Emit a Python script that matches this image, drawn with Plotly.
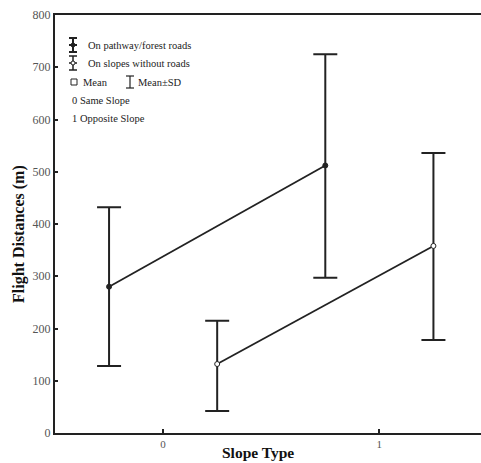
import plotly.graph_objects as go

# ---- data ----
slope_ticks = [0, 1]
tick_labels = ["0", "1"]
road_x = [-0.25, 0.75]
road_mean = [280, 512]
road_sd_upper = [432, 725]
road_sd_lower = [128, 297]
noroad_x = [0.25, 1.25]
noroad_mean = [132, 358]
noroad_sd_upper = [215, 536]
noroad_sd_lower = [42, 178]

W, H = 481, 463
L, R, T, B = 55, 0, 15, 30
PW, PH = W - L - R, H - T - B
FONT = "Liberation Serif"
INK = "#222222"

def px(x):
    return (x - L) / PW

def py(y):
    return (H - B - y) / PH

fig = go.Figure()

def add_series(xs, means, up, lo, fill):
    fig.add_trace(go.Scatter(
        x=xs, y=means, mode="lines+markers",
        line=dict(color=INK, width=1.8),
        marker=dict(size=5, color=fill, line=dict(color=INK, width=1)),
        error_y=dict(type="data", symmetric=False,
                     array=[u - m for u, m in zip(up, means)],
                     arrayminus=[m - l for m, l in zip(means, lo)],
                     color=INK, thickness=2, width=12),
        showlegend=False, hoverinfo="skip"))

add_series(road_x, road_mean, road_sd_upper, road_sd_lower, INK)
add_series(noroad_x, noroad_mean, noroad_sd_upper, noroad_sd_lower, "white")

fig.update_layout(
    width=W, height=H,
    margin=dict(l=L, r=R, t=T, b=B),
    paper_bgcolor="white", plot_bgcolor="white",
    font=dict(family=FONT, color="#333333", size=11),
    xaxis=dict(range=[-0.5, 1.47], tickvals=slope_ticks, ticktext=tick_labels,
               showgrid=False, zeroline=False, showline=True, linecolor=INK,
               linewidth=2, mirror=True, ticks="inside", ticklen=4,
               tickcolor=INK, tickwidth=1.5,
               tickfont=dict(family=FONT, size=11, color="#555555")),
    yaxis=dict(range=[0, 800], tickvals=[0, 100, 200, 300, 400, 500, 600, 700, 800],
               showgrid=False, zeroline=False, showline=True, linecolor=INK,
               linewidth=2, ticks="inside", ticklen=3, tickcolor=INK, tickwidth=1.5,
               tickfont=dict(family=FONT, size=12, color="#555555")),
)

ann = []
ann.append(dict(text="<b>Flight Distances (m)</b>", x=px(19), y=py(234), xref="paper",
                yref="paper", textangle=-90, showarrow=False,
                xanchor="center", yanchor="middle",
                font=dict(family=FONT, size=16, color="#111111")))
ann.append(dict(text="<b>Slope Type</b>", x=px(258), y=py(452), xref="paper",
                yref="paper", showarrow=False, xanchor="center", yanchor="middle",
                font=dict(family=FONT, size=15.5, color="#111111")))
leg = [("On pathway/forest roads", 86, 45), ("On slopes without roads", 86, 63),
       ("Mean", 81, 82), ("Mean±SD", 136, 82), ("0 Same Slope", 70, 100),
       ("1 Opposite Slope", 70, 118)]
for t, x0, y0 in leg:
    ann.append(dict(text=t, x=px(x0), y=py(y0), xref="paper", yref="paper",
                    xanchor="left", yanchor="middle", showarrow=False,
                    font=dict(family=FONT, size=10.5, color="#222222")))
fig.update_layout(annotations=ann)

shapes = []
def ibeam(xc, y1, y2, hw, wdt=1.5):
    shapes.append(dict(type="line", xref="paper", yref="paper", x0=px(xc), x1=px(xc),
                       y0=py(y1), y1=py(y2), line=dict(color=INK, width=wdt)))
    for yy in (y1, y2):
        shapes.append(dict(type="line", xref="paper", yref="paper", x0=px(xc - hw),
                           x1=px(xc + hw), y0=py(yy), y1=py(yy),
                           line=dict(color=INK, width=wdt)))

ibeam(73, 38, 52, 4, 2)
shapes.append(dict(type="line", xref="paper", yref="paper", x0=px(69), x1=px(77),
                   y0=py(45), y1=py(45), line=dict(color=INK, width=2)))
shapes.append(dict(type="circle", xref="paper", yref="paper", x0=px(71), x1=px(75),
                   y0=py(47), y1=py(43), fillcolor=INK, line=dict(color=INK, width=1)))
ibeam(73, 56, 70, 4, 1.5)
shapes.append(dict(type="line", xref="paper", yref="paper", x0=px(69), x1=px(77),
                   y0=py(63), y1=py(63), line=dict(color=INK, width=1.5, dash="dot")))
shapes.append(dict(type="circle", xref="paper", yref="paper", x0=px(71), x1=px(75),
                   y0=py(65), y1=py(61), fillcolor="white", line=dict(color=INK, width=1)))
shapes.append(dict(type="rect", xref="paper", yref="paper", x0=px(71), x1=px(77),
                   y0=py(85), y1=py(79), fillcolor="white", line=dict(color=INK, width=1)))
ibeam(130, 76, 88, 4, 1.2)
fig.update_layout(shapes=shapes)

fig.write_html("out.html", config={"displayModeBar": False},
               post_script="document.body.style.margin='0';document.body.style.overflow='hidden';")
